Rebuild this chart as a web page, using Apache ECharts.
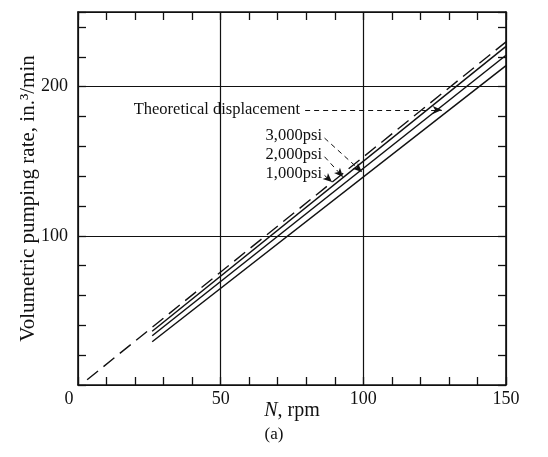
<!DOCTYPE html>
<html>
<head>
<meta charset="utf-8">
<script src="https://cdn.jsdelivr.net/npm/echarts@6/dist/echarts.min.js"></script>
<style>html,body{margin:0;padding:0;background:#fff}#c{width:548px;height:457px}</style>
</head>
<body>
<div id="c"></div>
<script>
// ---- data ----
const rpm = [26, 150];
const theoreticalX = [3.2, 150];
const theoretical = [3.5, 230];
const psi1000 = [36, 227];
const psi2000 = [33, 221];
const psi3000 = [29, 214];
const xTicks = [0, 50, 100, 150];
const yTicks = [0, 100, 200];
// annotation labels: [text, x, y] (text ends at this point)
const noteLabels = [
  ['Theoretical displacement', 77.8, 184.3],
  ['3,000psi', 85.5, 166.9],
  ['2,000psi', 85.5, 154.2],
  ['1,000psi', 85.5, 141.4]
];
// annotation arrows: [startX, startY, endX, endY]
const noteArrows = [
  [79.6, 184.3, 127.5, 184.3],
  [86.4, 165.5, 99.5, 142.8],
  [86.4, 153.0, 92.9, 139.4],
  [86.4, 140.5, 89.0, 136.0]
];

const FONT = 'Liberation Serif';
const black = '#111';
const pair = (xs, ys) => xs.map((x, i) => [x, ys[i]]);

const baseAxis = {
  type: 'value',
  nameMoveOverlap: false,
  axisLine: { show: true, onZero: false, lineStyle: { color: black, width: 1.6 } },
  axisTick: { show: true, inside: true, length: 8, lineStyle: { color: black, width: 1.3 } },
  minorTick: { show: true, splitNumber: 5, length: 8, lineStyle: { color: black, width: 1.3 } },
  minorSplitLine: { show: false }
};

const chart = echarts.init(document.getElementById('c'), null, { renderer: 'canvas' });
chart.setOption({
  backgroundColor: '#fff',
  animation: false,
  title: {
    text: '(a)', left: 'center', top: 421,
    textStyle: { fontFamily: FONT, fontSize: 17, fontWeight: 'normal', color: black }
  },
  grid: { left: 78, right: 42, top: 12, bottom: 72 },
  xAxis: [
    Object.assign({}, baseAxis, {
      min: 0, max: 150, interval: 50, position: 'bottom',
      splitLine: { show: true, lineStyle: { color: black, width: 1.2 } },
      name: '{i|N}{r|, rpm}', nameLocation: 'middle', nameGap: 16,
      nameTextStyle: {
        rich: {
          i: { fontFamily: FONT, fontSize: 20, fontStyle: 'italic', color: black },
          r: { fontFamily: FONT, fontSize: 20, color: black }
        }
      },
      axisLabel: {
        margin: 5, color: black, fontFamily: FONT, fontSize: 18,
        formatter: v => xTicks.indexOf(v) < 0 ? '' : (v === 0 ? '{z|0}' : String(v)),
        rich: { z: { fontFamily: FONT, fontSize: 18, color: black, padding: [0, 18, 0, 0] } }
      }
    }),
    Object.assign({}, baseAxis, {
      min: 0, max: 150, interval: 50, position: 'top',
      splitLine: { show: false }, axisLabel: { show: false }
    })
  ],
  yAxis: [
    Object.assign({}, baseAxis, {
      min: 0, max: 250, interval: 100, position: 'left',
      splitLine: { show: true, lineStyle: { color: black, width: 1.2 } },
      name: 'Volumetric pumping rate, in.\u00b3/min', nameLocation: 'middle', nameGap: 39,
      nameTextStyle: { fontFamily: FONT, fontSize: 21, color: black },
      axisLabel: {
        margin: 10, color: black, fontFamily: FONT, fontSize: 18,
        formatter: v => (v === 0 || yTicks.indexOf(v) < 0) ? '' : String(v)
      }
    }),
    Object.assign({}, baseAxis, {
      min: 0, max: 250, interval: 100, position: 'right',
      splitLine: { show: false }, axisLabel: { show: false }
    })
  ],
  series: [
    {
      name: 'Theoretical displacement', type: 'line', data: pair(theoreticalX, theoretical),
      showSymbol: false, lineStyle: { color: black, width: 1.4, type: [14, 7] }
    },
    {
      name: '1,000psi', type: 'line', data: pair(rpm, psi1000),
      showSymbol: false, lineStyle: { color: black, width: 1.5 }
    },
    {
      name: '2,000psi', type: 'line', data: pair(rpm, psi2000),
      showSymbol: false, lineStyle: { color: black, width: 1.5 }
    },
    {
      name: '3,000psi', type: 'line', data: pair(rpm, psi3000),
      showSymbol: false, lineStyle: { color: black, width: 1.5 }
    },
    {
      name: 'notes', type: 'line', data: [], silent: true,
      markPoint: {
        silent: true, symbol: 'circle', symbolSize: 0,
        label: {
          show: true, position: 'left', distance: 0,
          fontFamily: FONT, fontSize: 16.5, color: black,
          formatter: p => p.name
        },
        data: noteLabels.map(n => ({ name: n[0], coord: [n[1], n[2]] }))
      },
      markLine: {
        silent: true, animation: false,
        symbol: ['none', 'arrow'], symbolSize: [6, 9],
        lineStyle: { color: black, width: 1, type: [5, 4] },
        label: { show: false },
        data: noteArrows.map(n => [
          { coord: [n[0], n[1]] },
          { coord: [n[2], n[3]] }
        ])
      }
    }
  ]
});
</script>
</body>
</html>
